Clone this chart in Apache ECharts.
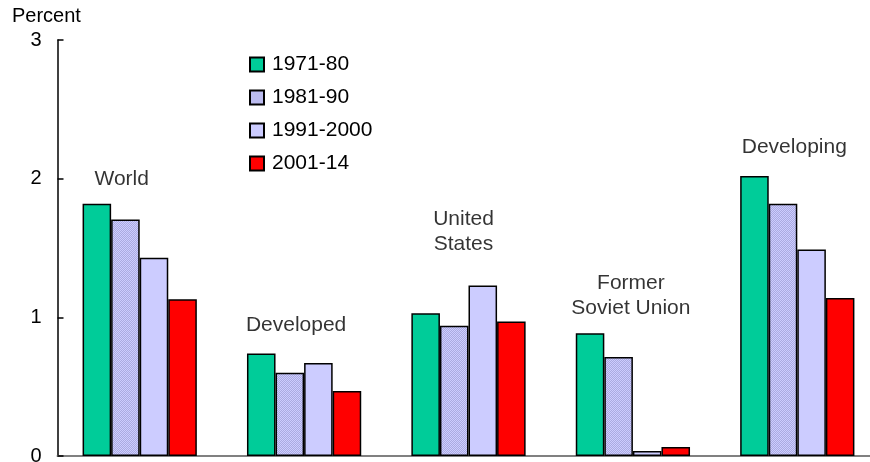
<!DOCTYPE html>
<html><head><meta charset="utf-8">
<script src="https://cdn.jsdelivr.net/npm/echarts@6/dist/echarts.min.js"></script>
<style>html,body{margin:0;padding:0;background:#fff}#c{width:870px;height:462px}</style>
</head><body><div id="c"></div>
<script>
const categories = ['World', 'Developed', 'United States', 'Former Soviet Union', 'Developing'];
const groupLabels = ['World', 'Developed', 'United\nStates', 'Former\nSoviet Union', 'Developing'];
const periods = ['1971-80', '1981-90', '1991-2000', '2001-14'];
const v1971 = [1.82, 0.74, 1.03, 0.885, 2.02];
const v1981 = [1.705, 0.60, 0.94, 0.714, 1.82];
const v1991 = [1.43, 0.67, 1.23, 0.036, 1.49];
const v2001 = [1.13, 0.468, 0.97, 0.065, 1.14];
const yTicks = [0, 1, 2, 3];

const FONT = '"Liberation Sans", Arial, sans-serif';
// label placement tweaks (pixels): [dx, dy]
const labelOffsets = [[-18, 2], [-8, -2], [-5, -15], [-2, 1.5], [-3, -2]];

function makePattern() {
  const c = document.createElement('canvas');
  c.width = 2; c.height = 2;
  const g = c.getContext('2d');
  g.fillStyle = '#CCCCFF'; g.fillRect(0, 0, 2, 2);
  g.fillStyle = '#ABABE0'; g.fillRect(0, 1, 1, 1); g.fillRect(1, 0, 1, 1);
  return c;
}
const pattern = { image: makePattern(), repeat: 'repeat' };

const allSeries = [v1971, v1981, v1991, v2001];
const colors = ['#00CC99', pattern, '#CCCCFF', '#FF0000'];
const groupMax = categories.map((_, i) => Math.max(...allSeries.map(s => s[i])));

const barSeries = periods.map((p, k) => ({
  name: p,
  type: 'bar',
  data: allSeries[k],
  barGap: '0%',
  barCategoryGap: '30.5%',
  itemStyle: { color: colors[k], borderColor: '#000', borderWidth: 1.5 },
  emphasis: { disabled: true },
  silent: true
}));

const labelSeries = {
  type: 'scatter',
  symbolSize: 0,
  silent: true,
  data: groupMax.map((m, i) => ({
    value: [i, m],
    label: {
      show: true, position: 'top', distance: 14,
      offset: labelOffsets[i],
      formatter: groupLabels[i],
      fontFamily: FONT, fontSize: 21, color: '#000', lineHeight: 25, align: 'center'
    }
  }))
};

const chart = echarts.init(document.getElementById('c'), null, { renderer: 'canvas' });
chart.setOption({
  animation: false,
  backgroundColor: '#fff',
  textStyle: { fontFamily: FONT },
  grid: { left: 57.5, top: 40, width: 822, height: 416, containLabel: false, outerBoundsMode: 'none' },
  graphic: [{
    type: 'text', left: 12, top: 6,
    style: { text: 'Percent', font: '20px ' + FONT, fill: '#000' }
  }],
  legend: {
    data: periods,
    orient: 'vertical',
    left: 244, top: 49,
    itemWidth: 14, itemHeight: 14, itemGap: 12,
    icon: 'rect',
    textStyle: { fontFamily: FONT, fontSize: 21, lineHeight: 21, color: '#000', padding: [0, 0, 0, 3] },
    selectedMode: false
  },
  xAxis: {
    type: 'category',
    data: categories,
    axisLine: { lineStyle: { color: '#808080', width: 2 } },
    axisTick: { show: false },
    axisLabel: { show: false },
    splitLine: { show: false }
  },
  yAxis: {
    type: 'value',
    min: yTicks[0], max: yTicks[yTicks.length - 1], interval: 1,
    axisLine: { show: true, lineStyle: { color: '#000', width: 1.5 } },
    axisTick: { show: true, inside: true, length: 6, lineStyle: { color: '#000', width: 1.5 } },
    axisLabel: { fontFamily: FONT, fontSize: 20, color: '#000', margin: 16 },
    splitLine: { show: false }
  },
  series: barSeries.concat([labelSeries])
});
</script>
</body></html>
